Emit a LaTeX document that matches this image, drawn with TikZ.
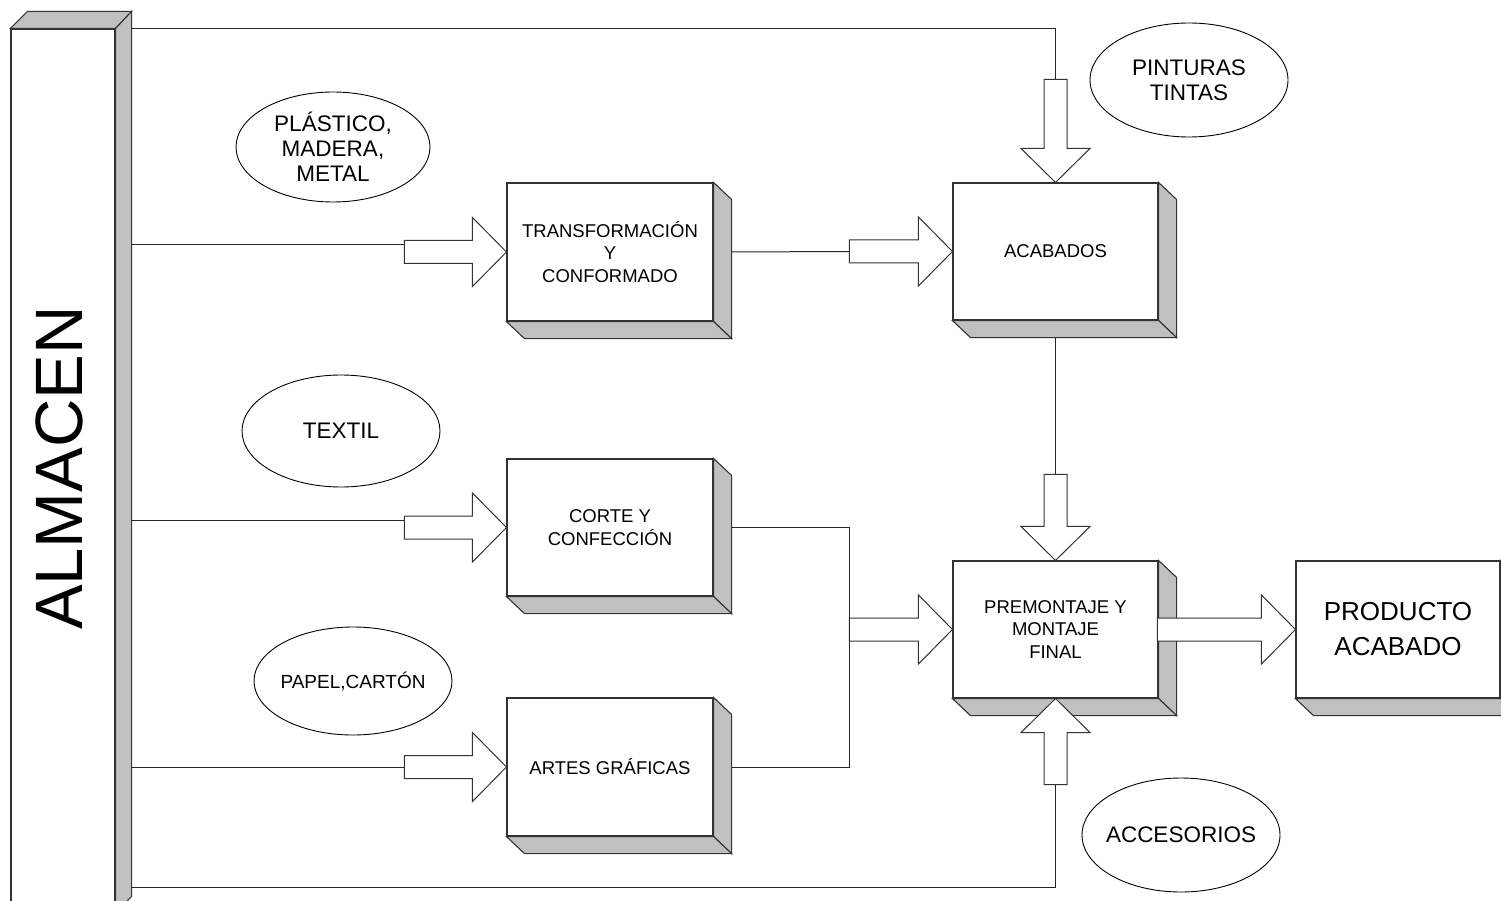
\documentclass[tikz,border=0pt]{standalone}
\usepackage{fontspec}
\setmainfont{Liberation Sans}
\definecolor{edge}{HTML}{333333}
\definecolor{facegray}{HTML}{C0C0C0}
\tikzset{
  conn/.style={draw=black!85, line width=1pt},
  face/.style={fill=facegray, draw=edge, line width=1.1pt, line join=miter},
  proc/.style={rectangle, draw=edge, line width=1.1pt, fill=white, inner sep=0pt,
    minimum width=206pt, minimum height=138pt, align=center,
    font=\fontsize{18.5}{22.5}\selectfont},
  ovaltxt/.style={align=center, inner sep=0pt, font=\fontsize{22.5}{25}\selectfont},
  oval/.style={draw=black, line width=0.9pt},
  arrowshape/.style={fill=white, draw=edge, line width=1pt, line join=miter},
  pics/barrow/.style={code={
     \filldraw[arrowshape] (0,0) -- (-34,-34.5) -- (-34,-11.5) -- (-#1,-11.5)
        -- (-#1,11.5) -- (-34,11.5) -- (-34,34.5) -- cycle;
     \coordinate (-tail) at (-#1,0);}}
}
\newcommand\boxfaces[1]{%
  \filldraw[face] (#1.north east) -- ([shift={(18pt,-17pt)}]#1.north east)
     -- ([shift={(18pt,-17pt)}]#1.south east) -- (#1.south east) -- cycle;
  \filldraw[face] (#1.south west) -- ([shift={(18pt,-17pt)}]#1.south west)
     -- ([shift={(18pt,-17pt)}]#1.south east) -- (#1.south east) -- cycle;}
\begin{document}
\begin{tikzpicture}[x=1pt,y=-1pt]
\useasboundingbox (0,0) rectangle (1501,901);
\fill[white] (0,0) rectangle (1501,901);

% ALMACEN bar
\node[draw=edge, line width=1.1pt, fill=white, minimum width=104pt,
      minimum height=883pt, inner sep=0pt] (alm) at (63,470.5) {};
\filldraw[face] (alm.north west) -- ([shift={(17pt,17pt)}]alm.north west)
   -- ([shift={(16pt,17pt)}]alm.north east) -- (alm.north east) -- cycle;
\filldraw[face] (alm.north east) -- ([shift={(16pt,17pt)}]alm.north east)
   -- ([shift={(16pt,16pt)}]alm.south east) -- (alm.south east) -- cycle;
\node[rotate=90, inner sep=0pt, font=\fontsize{67}{70}\selectfont] (almtxt) at (59,468) {ALMACEN};

% process boxes
\node[proc] (trans) at (610,252) {TRANSFORMACIÓN\\Y\\CONFORMADO};
\node[proc, minimum height=137pt] (corte) at (610,527.5) {CORTE Y\\CONFECCIÓN};
\node[proc] (artes) at (610,767) {ARTES GRÁFICAS};
\node[proc, minimum width=205pt, minimum height=137pt] (acab) at (1055.5,251.5) {ACABADOS};
\node[proc, minimum width=205pt, minimum height=137pt] (prem) at (1055.5,629.5) {PREMONTAJE Y\\MONTAJE\\FINAL};
\node[proc, minimum width=204pt, minimum height=137pt,
      font=\fontsize{26}{35}\selectfont] (prod) at (1398,629.5) {PRODUCTO\\ACABADO};
\boxfaces{trans}
\boxfaces{corte}
\boxfaces{artes}
\boxfaces{acab}
\boxfaces{prem}
\boxfaces{prod}

% block arrows
\pic (a1) at (trans.west) {barrow=102};
\pic (a8) at (corte.west) {barrow=102};
\pic (a9) at (artes.west) {barrow=102};
\pic (a2) at (acab.west) {barrow=103};
\pic (a4) at (prem.west) {barrow=103};
\pic (a5) at (prod.west) {barrow=138};
\pic[rotate=-90] (a7) at (acab.north) {barrow=103};
\pic[rotate=-90] (a3) at (prem.north) {barrow=86};
\pic[rotate=90] (a6) at (prem.south) {barrow=86};

% connector end points on the bar
\coordinate (bTop) at (131,29);
\coordinate (b1) at (131,245);
\coordinate (b8) at (131,520);
\coordinate (b9) at (131,767);
\coordinate (bBot) at (131,887);
\coordinate (tR) at ([xshift=18pt]trans.east);
\coordinate (cR) at ([xshift=18pt]corte.east);
\coordinate (gR) at ([xshift=18pt]artes.east);
\coordinate (acB) at ([yshift=-17pt]acab.south);

% connectors
\draw[conn] (bTop) -| (a7-tail);
\draw[conn] (b1) -- (b1 -| a1-tail);
\draw[conn] (b8) -- (b8 -| a8-tail);
\draw[conn] (b9) -- (b9 -| a9-tail);
\draw[conn] (bBot) -| (a6-tail);
\draw[conn] (tR) -- (a2-tail);
\draw[conn] (acB) -- (a3-tail);
\draw[conn] (cR) -- (cR -| a4-tail) -- (gR -| a4-tail) -- (gR);

% ellipses
\node[ovaltxt] (plas) at (333,147) {PLÁSTICO,\\MADERA,\\METAL};
\draw[oval] (plas.center) ellipse [x radius=97pt, y radius=55pt];
\node[ovaltxt] (pint) at (1189,80) {PINTURAS\\TINTAS};
\draw[oval] (pint.center) ellipse [x radius=99pt, y radius=57pt];
\node[ovaltxt] (text) at (341,431) {TEXTIL};
\draw[oval] (text.center) ellipse [x radius=99pt, y radius=56pt];
\node[ovaltxt, font=\fontsize{19}{23}\selectfont] (pape) at (353,681) {PAPEL,CARTÓN};
\draw[oval] (pape.center) ellipse [x radius=99pt, y radius=54pt];
\node[ovaltxt] (acce) at (1181,835) {ACCESORIOS};
\draw[oval] (acce.center) ellipse [x radius=99pt, y radius=57pt];
\end{tikzpicture}
\end{document}
